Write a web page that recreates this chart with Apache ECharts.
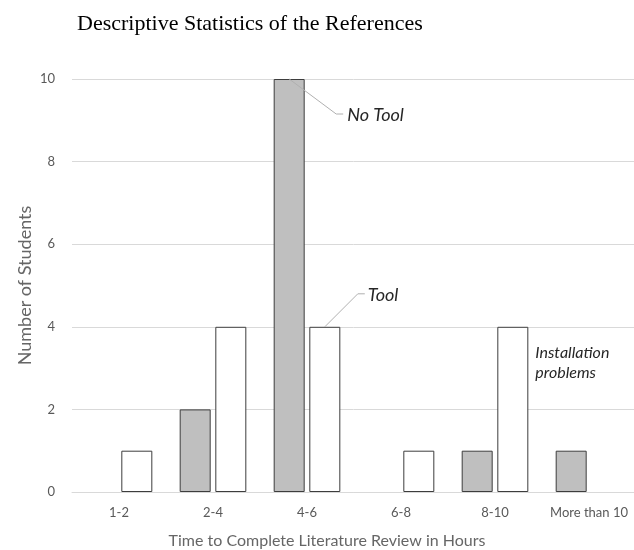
<!DOCTYPE html>
<html><head><meta charset="utf-8">
<script src="https://cdn.jsdelivr.net/npm/echarts@6/dist/echarts.min.js"></script>
<style>html,body{margin:0;padding:0;background:#fff}#c{width:634px;height:550px}</style>
</head><body><div id="c"></div>
<script>
const categories = ['1-2', '2-4', '4-6', '6-8', '8-10', 'More than 10'];
const noTool = [0, 2, 10, 0, 1, 1];
const tool = [1, 4, 4, 1, 4, 0];
const yTicks = [0, 2, 4, 6, 8, 10];
const titleText = 'Descriptive Statistics of the References';
const xName = 'Time to Complete Literature Review in Hours';
const yName = 'Number of Students';
const noteText = 'Installation\nproblems';

const chart = echarts.init(document.getElementById('c'), null, {renderer: 'canvas'});
const grey = '#595959';
const BW = 31, GAP = 4.6;
// zero-height bars get no outline
const toItems = arr => arr.map(v => v === 0 ? {value: v, itemStyle: {borderWidth: 0}} : {value: v});
const toolItems = toItems(tool);
toolItems[4].label = {show: true};
const option = {
  animation: false,
  title: {text: titleText, left: 72, top: 8,
    textStyle: {fontFamily: 'Liberation Serif', fontSize: 22, fontWeight: 'normal', color: '#000'}},
  grid: {left: 72, top: 79, bottom: 58, width: 564, containLabel: false, outerBoundsMode: 'none'},
  xAxis: {type: 'category', data: categories,
    axisLine: {lineStyle: {color: '#d9d9d9'}}, axisTick: {show: false},
    axisLabel: {color: grey, fontFamily: 'Lato', fontSize: 13, margin: 14, interval: 0},
    name: xName, nameLocation: 'middle', nameGap: 41, nameMoveOverlap: false,
    nameTextStyle: {color: '#666666', fontFamily: 'Lato', fontSize: 16, padding: [0, 54, 0, 0]}},
  yAxis: {type: 'value', min: yTicks[0], max: yTicks[yTicks.length - 1], interval: 2,
    axisLine: {show: false}, axisTick: {show: false},
    splitLine: {lineStyle: {color: '#d9d9d9'}},
    axisLabel: {color: grey, fontFamily: 'Lato', fontSize: 13, margin: 17},
    name: yName, nameLocation: 'middle', nameGap: 38, nameMoveOverlap: false,
    nameTextStyle: {color: '#666666', fontFamily: 'Lato', fontSize: 18}},
  series: [
    {name: 'No Tool', type: 'bar', data: toItems(noTool), barWidth: BW, barGap: '15%',
      itemStyle: {color: '#bfbfbf', borderColor: '#3d3d3d', borderWidth: 1}},
    {name: 'Tool', type: 'bar', data: toolItems,
      barWidth: BW,
      itemStyle: {color: '#ffffff', borderColor: '#3d3d3d', borderWidth: 1},
      label: {show: false, formatter: noteText, position: [38, 16],
        fontFamily: 'Lato', fontStyle: 'italic', fontSize: 16, lineHeight: 20, color: '#262626'}}
  ]
};
chart.setOption(option);

// annotations anchored on the 4-6 bars via the library's scales
const ci = 2;
const cx = chart.convertToPixel({xAxisIndex: 0}, categories[ci]);
const off = (BW + GAP) / 2;
const yNo = chart.convertToPixel({yAxisIndex: 0}, noTool[ci]);
const yT = chart.convertToPixel({yAxisIndex: 0}, tool[ci]);
const xNo = cx - off, xT = cx + off;
const lineStyle = {stroke: '#b0b0b0', lineWidth: 1, fill: null};
const txtStyle = {fontFamily: 'Lato', fontStyle: 'italic', fontSize: 18, fill: '#262626', verticalAlign: 'middle'};
chart.setOption({graphic: [
  {type: 'polyline', shape: {points: [[xNo, yNo], [xNo + 47, yNo + 35], [xNo + 54, yNo + 35]]}, style: lineStyle, z: 10},
  {type: 'text', x: xNo + 58, y: yNo + 36, style: Object.assign({text: 'No Tool'}, txtStyle), z: 10},
  {type: 'polyline', shape: {points: [[xT, yT], [xT + 33, yT - 33], [xT + 40, yT - 33]]}, style: lineStyle, z: 10},
  {type: 'text', x: xT + 43, y: yT - 32, style: Object.assign({text: 'Tool'}, txtStyle), z: 10}
]});
</script></body></html>
